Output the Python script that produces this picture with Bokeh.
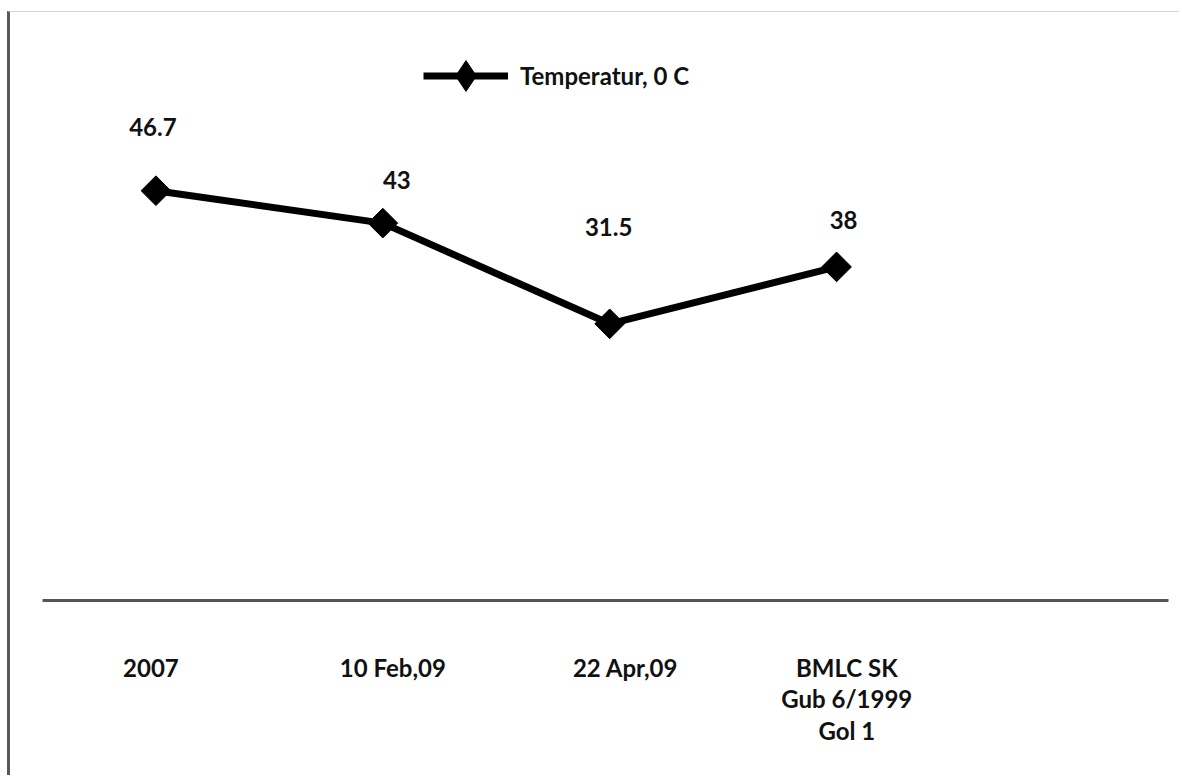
from bokeh.plotting import figure
from bokeh.models import (ColumnDataSource, Range1d, LinearAxis, FixedTicker,
                          LabelSet, Legend, LegendItem)
from bokeh.core.properties import value
from bokeh.embed import file_html
from bokeh.resources import INLINE

# Temperature readings per sampling point
categories = ["2007", "10 Feb,09", "22 Apr,09", "BMLC SK\nGub 6/1999\nGol 1"]
temperature = [46.7, 43.0, 31.5, 38.0]
value_labels = ["46.7", "43", "31.5", "38"]
series_name = "Temperatur, 0 C"

# layout helpers (category slots and label nudges, in pixels)
slot = [0.5, 1.5, 2.5, 3.5]
tick_pos = [0.478, 1.544, 2.57, 3.545]
label_dx = [-3, 14, -1, 7]
label_dy = [64, 43, 97, 47]

FONT = "Lato"
FSIZE = "24px"

src = ColumnDataSource(dict(x=slot, y=temperature, lab=value_labels,
                            dx=label_dx, dy=label_dy))

p = figure(width=1172, height=764, output_backend="svg", toolbar_location=None,
           x_range=Range1d(0, 4.963), y_range=Range1d(-0.1, 66.94),
           min_border_left=32, min_border_right=14,
           min_border_top=1, min_border_bottom=176,
           x_axis_type=None, y_axis_type=None,
           styles={"margin-left": "7px", "margin-top": "11px",
                   "border-left": "3px solid #585858",
                   "border-top": "1px solid #d4d4d4"})
p.outline_line_color = None
p.xgrid.visible = False
p.ygrid.visible = False
p.background_fill_color = "white"
p.border_fill_color = "white"

# category axis along the bottom
xaxis = LinearAxis(ticker=FixedTicker(ticks=tick_pos),
                   major_label_overrides={t: c for t, c in zip(tick_pos, categories)})
xaxis.axis_line_color = "#555555"
xaxis.axis_line_width = 3
xaxis.major_tick_line_color = None
xaxis.minor_tick_line_color = None
xaxis.major_label_standoff = 46
xaxis.major_label_text_font = FONT
xaxis.major_label_text_font_style = "bold"
xaxis.major_label_text_font_size = FSIZE
xaxis.major_label_text_color = "#111111"
xaxis.major_label_text_line_height = 1.1
p.add_layout(xaxis, "below")

line = p.line("x", "y", source=src, line_color="black", line_width=7)
# diamond glyph used as the legend swatch; tiny, sits under the point markers
swatch = p.scatter("x", "y", source=src, marker="diamond", size=1,
                   fill_color="black", line_color="black")
pts = p.scatter("x", "y", source=src, marker="square", size=21, angle=0.785398,
                fill_color="black", line_color="black")

labels = LabelSet(x="x", y="y", text="lab", source=src,
                  x_offset="dx", y_offset="dy",
                  text_align="center", text_baseline="middle",
                  text_font=value(FONT), text_font_style="bold",
                  text_font_size=FSIZE, text_color="#111111")
p.add_layout(labels)

legend = Legend(items=[LegendItem(label=series_name, renderers=[line, swatch])],
                location=(381, 486), orientation="horizontal",
                glyph_width=85, glyph_height=77, label_standoff=12,
                label_text_font=FONT, label_text_font_style="bold",
                label_text_font_size=FSIZE, label_text_color="#111111",
                label_height=77,
                border_line_color=None, background_fill_alpha=0,
                padding=0, margin=0)
p.add_layout(legend)

open("out.html", "w").write(file_html(p, INLINE))
